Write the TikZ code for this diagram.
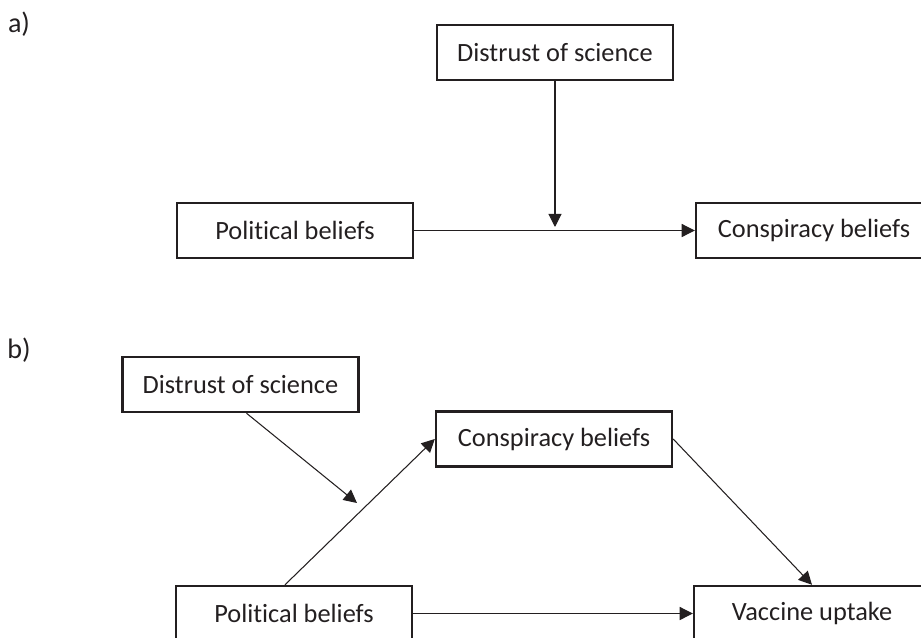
\documentclass[tikz,border=0pt]{standalone}
\usepackage{fontspec}
\setmainfont{Carlito}[Ligatures=NoCommon]
\usepackage{tikz}
\definecolor{inkish}{RGB}{35, 31, 32}
\usetikzlibrary{arrows.meta}
\tikzset{
  varnode/.style = {align=center, inner sep=0pt, text centered,
    font=\fontsize{15}{18}\selectfont, text=inkish},
  var_box/.style = {varnode, rectangle, draw=inkish, line width=1.4pt,
    minimum width=4.72cm, minimum height=1.1cm},% boite de variable
  panel_lbl/.style = {varnode, anchor=center, font=\fontsize{16}{19}\selectfont},% etiquette a) b)
  path_arr/.style = {->, draw=inkish, line width=0.6pt},% fleche simple
}
\begin{document}
\begin{tikzpicture}[x=0.02cm, y=-0.02cm,
  >={Triangle[length=7.5pt,width=7.5pt]},
]
\useasboundingbox (0,0) rectangle (921,637);
\clip (0,0) rectangle (921,637);
% panel a
\node [panel_lbl] (lblA) at (19,24) {a)};
\node [var_box] (distA) at (555,52.5) {Distrust of science};
\node [var_box] (polA) at (295,230.5) {Political beliefs};
\node [var_box] (conA) at (814,230.5) {Conspiracy beliefs};
\draw [path_arr] (polA.east) -- (conA.west);
\draw [path_arr, shorten >=2pt] (distA.south) -- (distA.south |- polA.east);
% panel b
\node [panel_lbl] (lblB) at (19,350) {b)};
\node [var_box] (distB) at (240.5,384.5) {Distrust of science};
\node [var_box] (conB) at (554,439) {Conspiracy beliefs};
\node [var_box] (polB) at (294,613.5) {Political beliefs};
\node [var_box] (vacB) at (812,613.5) {Vaccine uptake};
\coordinate (modB) at (357,503);
\draw [path_arr] ([xshift=-9*0.02cm]polB.north) -- (conB.west);
\draw [path_arr] ([xshift=6*0.02cm]distB.south) -- (modB);
\draw [path_arr] (conB.east) -- (vacB.north);
\draw [path_arr] (polB.east) -- (vacB.west);
\end{tikzpicture}
\end{document}
